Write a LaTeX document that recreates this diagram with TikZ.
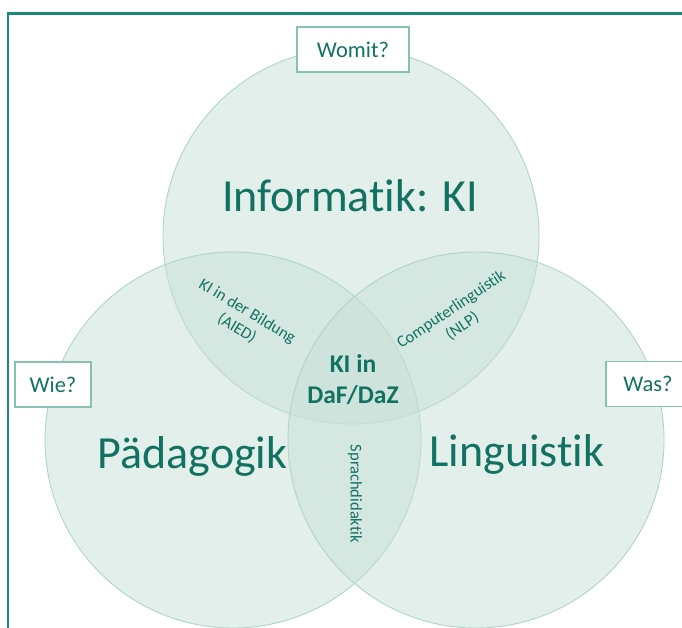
\documentclass[tikz,border=0pt]{standalone}
\usepackage{fontspec}
\setmainfont{Carlito}[Ligatures=NoCommon]
\definecolor{vennfill}{HTML}{C8E0D9}
\definecolor{vennline}{HTML}{AFD5CB}
\definecolor{kitext}{HTML}{127262}
\definecolor{askline}{HTML}{86C1B3}
\definecolor{framecol}{HTML}{1C8A78}
\begin{document}
\begin{tikzpicture}[x=1pt,y=-1pt,
  venn/.style={circle, minimum size=376pt, inner sep=0pt,
    fill=vennfill, fill opacity=0.5, draw=vennline, draw opacity=1, line width=0.9pt},
  lbl/.style={text=kitext, inner sep=0pt, text opacity=1},
  biglbl/.style={lbl, font=\fontsize{46}{50}\selectfont, anchor=base},
  smalllbl/.style={lbl, align=center, font=\fontsize{16.5}{20}\selectfont},
  ask/.style={draw=askline, line width=1.4pt, fill=white, minimum height=45pt,
    inner sep=0pt, text=kitext, font=\fontsize{22.5}{26}\selectfont},
]
\useasboundingbox (0,0) rectangle (682,628);
\clip (0,0) rectangle (682,628);
\fill[white] (0,0) rectangle (682,628);

% frame around the figure
\draw[framecol, line width=2.6pt] (7.8,640) -- (7.8,13.7) -- (690,13.7);

% the three fields
\node[venn] (inf) at (351,236) {};
\node[venn] (paed) at (233,440) {};
\node[venn] (ling) at (476,440) {};

% field names
\node[biglbl] (tinf) at (350,212) {Informatik: KI};
\node[biglbl] (tpaed) at (192.5,468) {Pädagogik};
\node[biglbl] (tling) at (517,466) {Linguistik};

% overlaps
\node[smalllbl, rotate=-31] (aied) at (242,320) {KI in der Bildung\\(AIED)};
\node[smalllbl, rotate=34] (nlp) at (457,318) {Computerlinguistik\\(NLP)};
\node[smalllbl, rotate=-90] (sd) at (355,494) {Sprachdidaktik};
\node[lbl, align=center, font=\fontsize{25.5}{31}\selectfont\bfseries] (core) at (353,380) {KI in\\DaF/DaZ};

% guiding questions
\node[ask, minimum width=112pt] (womit) at (353,49.5) {Womit?};
\node[ask, minimum width=76pt] (wie) at (53,384.5) {Wie?};
\node[ask, minimum width=84pt] (was) at (648,384) {Was?};
\end{tikzpicture}
\end{document}
